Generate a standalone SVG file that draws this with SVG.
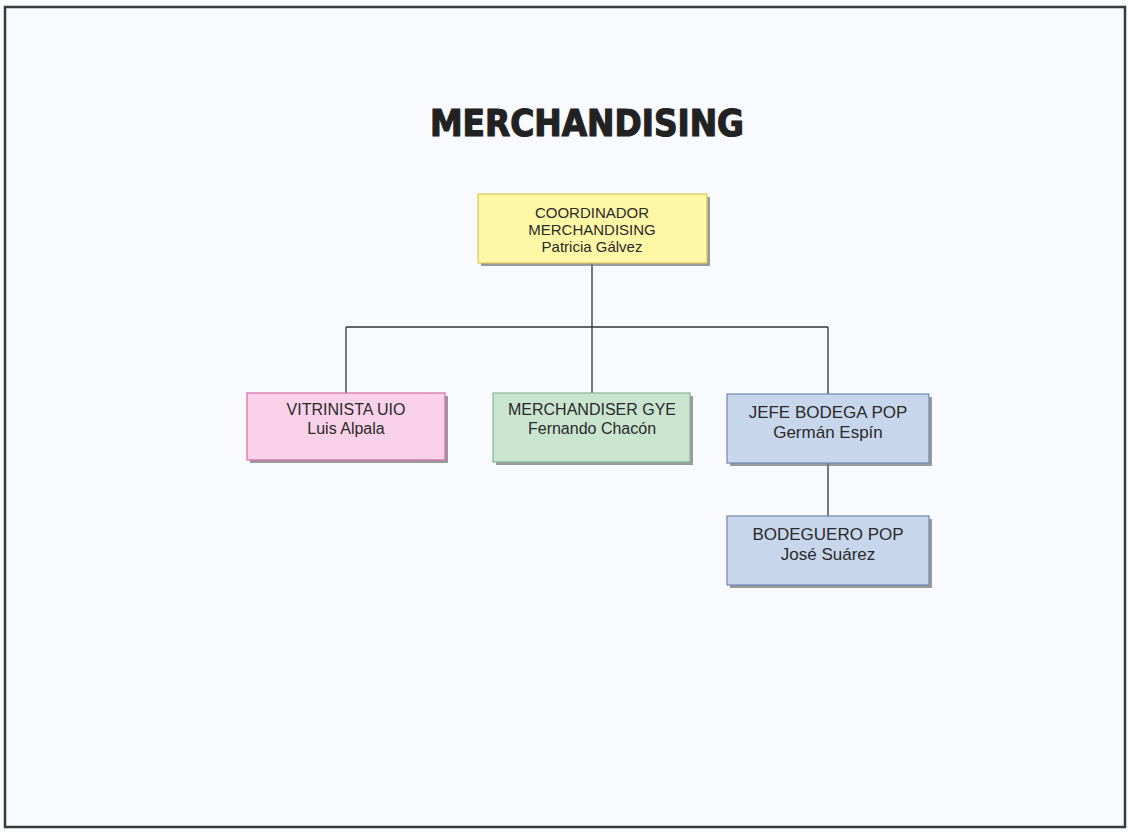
<svg xmlns="http://www.w3.org/2000/svg" width="1128" height="832" viewBox="0 0 1128 832">
<style>
.box{stroke-width:1.2}
.shadow{fill:#7a7a7a;opacity:0.75}
.t{font-family:"Liberation Sans",Arial,sans-serif;font-size:15px;fill:#2a2a2a;text-anchor:middle}
.m{font-size:16px}
.b{font-size:17px}
.ln{stroke:#333;stroke-width:1.3;fill:none}
</style>
<rect x="0" y="0" width="1128" height="832" fill="#fbfcfe"/>
<rect x="5" y="7" width="1120" height="820" fill="#f8fafd" stroke="#3a3a3a" stroke-width="2.5"/>
<text x="587" y="136" font-family="'Liberation Sans Narrow','DejaVu Sans Condensed','Liberation Sans',sans-serif" font-weight="bold" font-size="38" fill="#222" text-anchor="middle" textLength="314" lengthAdjust="spacingAndGlyphs" stroke="#222" stroke-width="1.2">MERCHANDISING</text>
<g id="connectors">
<path class="ln" d="M592 263V327M346 327H828M346 327V393M592 327V393M828 327V394M828 463V516"/>
</g>
<g id="coordinador">
<rect class="shadow" x="481" y="197" width="229" height="69"/>
<rect class="box" x="478" y="194" width="229" height="69" fill="#fdf7a6" stroke="#d9c95a"/>
<text class="t" x="592" y="218">COORDINADOR</text>
<text class="t" x="592" y="235">MERCHANDISING</text>
<text class="t" x="592" y="252">Patricia Gálvez</text>
</g>
<g id="vitrinista">
<rect class="shadow" x="250" y="396" width="198" height="67"/>
<rect class="box" x="247" y="393" width="198" height="67" fill="#f9d2ea" stroke="#d56aa8"/>
<text class="t m" x="346" y="415">VITRINISTA UIO</text>
<text class="t m" x="346" y="434">Luis Alpala</text>
</g>
<g id="merchandiser">
<rect class="shadow" x="496" y="396" width="197" height="69"/>
<rect class="box" x="493" y="393" width="197" height="69" fill="#c9e4cf" stroke="#86b696"/>
<text class="t m" x="592" y="415">MERCHANDISER  GYE</text>
<text class="t m" x="592" y="434">Fernando Chacón</text>
</g>
<g id="jefe">
<rect class="shadow" x="730" y="397" width="202" height="69"/>
<rect class="box" x="727" y="394" width="202" height="69" fill="#c8d6ec" stroke="#7088b2"/>
<text class="t b" x="828" y="418">JEFE BODEGA POP</text>
<text class="t b" x="828" y="438">Germán Espín</text>
</g>
<g id="bodeguero">
<rect class="shadow" x="730" y="519" width="202" height="69"/>
<rect class="box" x="727" y="516" width="202" height="69" fill="#c8d6ec" stroke="#7088b2"/>
<text class="t b" x="828" y="540">BODEGUERO POP</text>
<text class="t b" x="828" y="560">José Suárez</text>
</g>
</svg>
